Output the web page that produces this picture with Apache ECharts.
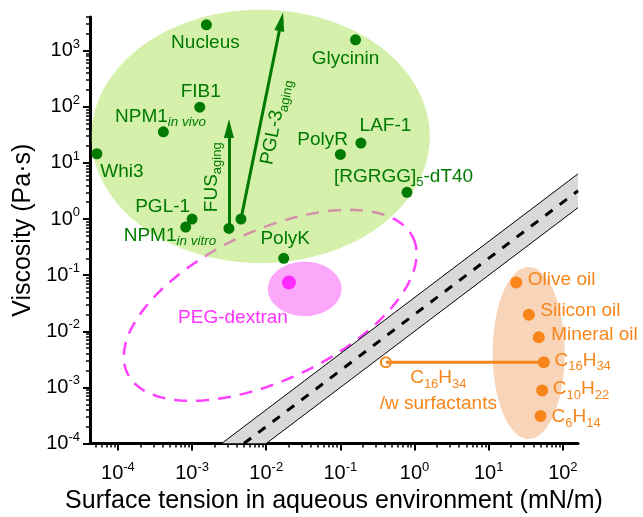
<!DOCTYPE html>
<html><head><meta charset="utf-8">
<script src="https://cdn.jsdelivr.net/npm/echarts@6/dist/echarts.min.js"></script>
<style>html,body{margin:0;padding:0;background:#fff}#c{width:643px;height:517px}</style>
</head><body><div id="c"></div>
<script>
// ---------------- data ----------------
const xRange = [4.2e-5, 160];
const yRange = [1e-4, 4000];
const xMajorTicks = [1e-4, 1e-3, 1e-2, 1e-1, 1, 10, 100];
const yMajorTicks = [1e-4, 1e-3, 1e-2, 1e-1, 1, 10, 100, 1000];
const minorDecades = [-5, -4, -3, -2, -1, 0, 1, 2, 3];
const minorMultipliers = [2, 3, 4, 5, 6, 7, 8, 9];

// condensates (green)
const greenNames = ['Nucleus', 'FIB1', 'NPM1 in vivo', 'Whi3', 'PGL-1', 'NPM1 in vitro', 'FUS', 'PGL-3', 'PolyK', 'Glycinin', 'LAF-1', 'PolyR', '[RGRGG]5-dT40'];
const greenTension = [1.56e-3, 1.27e-3, 4.1e-4, 5.2e-5, 1.0e-3, 8.2e-4, 3.14e-3, 4.56e-3, 0.0172, 0.16, 0.189, 0.1, 0.79];
const greenViscosity = [2900, 99, 36, 14.6, 1.0, 0.72, 0.68, 1.0, 0.2, 1570, 22.6, 14.2, 3.0];

// aging arrows
const arrowNames = ['FUS', 'PGL-3'];
const arrowFrom = [[3.14e-3, 0.68], [4.56e-3, 1.0]];
const arrowTo = [[3.14e-3, 41], [0.0159, 3300]];

// PEG-dextran (magenta)
const pegNames = ['PEG-dextran'];
const pegTension = [0.0202];
const pegViscosity = [0.074];

// oils (orange)
const oilNames = ['Olive oil', 'Silicon oil', 'Mineral oil', 'C16H34', 'C10H22', 'C6H14'];
const oilTension = [23.5, 34.8, 47.3, 55.3, 52.6, 50];
const oilViscosity = [0.074, 0.0197, 0.0078, 0.0028, 0.00088, 0.00031];

// C16H34 with surfactants
const surfNames = ['C16H34 /w surfactants'];
const surfTension = [0.41];
const surfViscosity = [0.0028];

// shaded regions (data extents)
const greenRegionX = [4.4e-5, 1.6];
const greenRegionY = [0.165, 5400];
const pegRegionX = [0.0105, 0.1035];
const pegRegionY = [0.0187, 0.174];
const oilRegionX = [11.3, 105.7];
const oilRegionY = [1.2e-4, 0.14];
// tilted dashed PEG-dextran boundary: centre and conjugate half-axes in decades
const pegBoundaryCenter = [0.0113, 0.029];
const pegBoundaryU = [1.927, 1.207];
const pegBoundaryV = [0.430, -1.200];

// scaling band  (viscosity ~ tension)
const trendLine = [[5e-3, 1e-4], [160, 3.2]];
const bandUpper = [[2.5e-3, 1e-4], [160, 6.4]];
const bandLower = [[1e-2, 1e-4], [160, 1.6]];

// ---------------- styles ----------------
const FONT = "'Liberation Sans', Arial, sans-serif";
const GREEN = '#007a00';
const MAGENTA = '#ff33ff';
const ORANGE = '#f7851a';

const labelText = {
  'NPM1 in vivo': '{m|NPM1}{si|in vivo}',
  'NPM1 in vitro': '{m|NPM1}{si|in vitro}',
  'FUS': '{m|FUS}{sub|aging}',
  'PGL-3': '{m|PGL-3}{sub|aging}',
  '[RGRGG]5-dT40': '{m|[RGRGG]}{sub|5}{m|-dT40}',
  'C16H34': '{m|C}{sub|16}{m|H}{sub|34}',
  'C10H22': '{m|C}{sub|10}{m|H}{sub|22}',
  'C6H14': '{m|C}{sub|6}{m|H}{sub|14}',
  'C16H34 /w surfactants': '{m|C}{sub|16}{m|H}{sub|34}\n{m|/w surfactants}'
};
const labelLayout = {
  'Nucleus': {align: 'center', offset: [-1, 18]},
  'FIB1': {align: 'center', offset: [1, -15.6]},
  'NPM1 in vivo': {align: 'left', offset: [-48.3, -15.3]},
  'Whi3': {align: 'left', offset: [3.4, 17.7]},
  'PGL-1': {align: 'right', offset: [-2, -12.6]},
  'NPM1 in vitro': {align: 'left', offset: [-62, 8.5]},
  'FUS': {align: 'center', offset: [51.2, -17.6], rotate: 90},
  'PGL-3': {align: 'center', offset: [102, 15], rotate: 79},
  'PolyK': {align: 'center', offset: [1.5, -19.6]},
  'Glycinin': {align: 'center', offset: [-10, 18.8]},
  'LAF-1': {align: 'left', offset: [-1.3, -17.6]},
  'PolyR': {align: 'right', offset: [7.6, -14.7]},
  '[RGRGG]5-dT40': {align: 'left', offset: [-73, -16]},
  'PEG-dextran': {align: 'right', offset: [-1, 35.6]},
  'Olive oil': {align: 'left', offset: [11.6, -3.2]},
  'Silicon oil': {align: 'left', offset: [11.4, -3.7]},
  'Mineral oil': {align: 'left', offset: [12.4, -2.2]},
  'C16H34': {align: 'left', offset: [10.7, -2]},
  'C10H22': {align: 'left', offset: [10.6, -2]},
  'C6H14': {align: 'left', offset: [11, 0.7]},
  'C16H34 /w surfactants': {align: 'center', offset: [52.5, 28.5]}
};

function richFor(color) {
  return {
    m: {fontSize: 19, lineHeight: 26, fontFamily: FONT, color: color},
    sub: {fontSize: 13, lineHeight: 13, verticalAlign: 'bottom', fontFamily: FONT, color: color},
    si: {fontSize: 13.5, lineHeight: 13, fontStyle: 'italic', verticalAlign: 'bottom', fontFamily: FONT, color: color}
  };
}
function makePoints(names, xs, ys, color) {
  return names.map((n, i) => {
    const lay = labelLayout[n] || {align: 'center', offset: [0, 0]};
    return {
      name: n,
      value: [xs[i], ys[i]],
      label: {
        show: true, position: 'inside', verticalAlign: 'middle', opacity: 1,
        align: lay.align, offset: lay.offset, rotate: lay.rotate || 0,
        formatter: labelText[n] || ('{m|' + n + '}'),
        rich: richFor(color)
      }
    };
  });
}

const minorTicks = [];
minorDecades.forEach(d => minorMultipliers.forEach(m => minorTicks.push(m * Math.pow(10, d))));
const xMinor = minorTicks.filter(v => v > xRange[0] && v < xRange[1]);
const yMinor = minorTicks.filter(v => v > yRange[0] && v <= yRange[1]);

function ellipseVerts(xr, yr) {
  const lx0 = Math.log10(xr[0]), lx1 = Math.log10(xr[1]);
  const ly0 = Math.log10(yr[0]), ly1 = Math.log10(yr[1]);
  const cx = (lx0 + lx1) / 2, rx = (lx1 - lx0) / 2, cy = (ly0 + ly1) / 2, ry = (ly1 - ly0) / 2;
  const pts = [];
  for (let i = 0; i < 180; i++) {
    const t = i / 180 * Math.PI * 2;
    pts.push([Math.pow(10, cx + rx * Math.cos(t)), Math.pow(10, cy + ry * Math.sin(t))]);
  }
  return pts;
}
function tiltedVerts(c, U, V) {
  const lc = [Math.log10(c[0]), Math.log10(c[1])];
  const pts = [];
  for (let i = 0; i < 180; i++) {
    const t = i / 180 * Math.PI * 2;
    pts.push([Math.pow(10, lc[0] + U[0] * Math.cos(t) + V[0] * Math.sin(t)),
              Math.pow(10, lc[1] + U[1] * Math.cos(t) + V[1] * Math.sin(t))]);
  }
  return pts;
}
function polySeries(verts, style, clip) {
  return {
    type: 'custom', coordinateSystem: 'cartesian2d', clip: !!clip, silent: true,
    data: [verts[0]],
    renderItem: (params, api) => ({
      type: 'polygon',
      shape: {points: verts.map(p => api.coord(p))},
      style: style
    })
  };
}

const powLabel = v => '{b|10}{e|' + Math.round(Math.log10(v)) + '}';
const tickRich = {
  b: {fontSize: 20, lineHeight: 26, fontFamily: FONT, color: '#000'},
  e: {fontSize: 13, lineHeight: 13, verticalAlign: 'top', fontFamily: FONT, color: '#000'}
};
const gridBox = {left: 90, right: 65, top: 17, bottom: 73.5, containLabel: false, outerBoundsMode: 'none'};

const option = {
  animation: false,
  backgroundColor: '#fff',
  grid: [Object.assign({}, gridBox), Object.assign({}, gridBox)],
  xAxis: [
    {
      type: 'log', logBase: 10, gridIndex: 0, min: xRange[0], max: xRange[1], position: 'bottom',
      axisLine: {show: true, lineStyle: {color: '#000', width: 3}},
      axisTick: {show: true, inside: false, length: 7, lineStyle: {color: '#000', width: 2}, customValues: xMajorTicks},
      axisLabel: {show: true, customValues: xMajorTicks, formatter: powLabel, margin: 17, rich: tickRich},
      splitLine: {show: false}, minorTick: {show: false},
      name: 'Surface tension in aqueous environment (mN/m)', nameLocation: 'middle', nameGap: 32,
      nameTextStyle: {fontSize: 25, fontFamily: FONT, color: '#000'}
    },
    {
      type: 'log', logBase: 10, gridIndex: 1, min: xRange[0], max: xRange[1], position: 'bottom',
      axisLine: {show: false},
      axisTick: {show: true, inside: false, length: 4, lineStyle: {color: '#000', width: 1.5}, customValues: xMinor},
      axisLabel: {show: false}, splitLine: {show: false}
    }
  ],
  yAxis: [
    {
      type: 'log', logBase: 10, gridIndex: 0, min: yRange[0], max: yRange[1], position: 'left',
      axisLine: {show: true, lineStyle: {color: '#000', width: 3}},
      axisTick: {show: true, inside: false, length: 7, lineStyle: {color: '#000', width: 2}, customValues: yMajorTicks},
      axisLabel: {show: true, customValues: yMajorTicks, formatter: powLabel, margin: 10, rich: tickRich},
      splitLine: {show: false}, minorTick: {show: false},
      name: 'Viscosity (Pa\u00b7s)', nameLocation: 'middle', nameGap: 48,
      nameTextStyle: {fontSize: 25, fontFamily: FONT, color: '#000'}
    },
    {
      type: 'log', logBase: 10, gridIndex: 1, min: yRange[0], max: yRange[1], position: 'left',
      axisLine: {show: false},
      axisTick: {show: true, inside: false, length: 4, lineStyle: {color: '#000', width: 1.5}, customValues: yMinor},
      axisLabel: {show: false}, splitLine: {show: false}
    }
  ],
  series: [
    polySeries([bandUpper[0], bandLower[0], bandLower[1], bandUpper[1]], {fill: '#d9d9d9'}, true),
    {type: 'line', data: bandUpper, symbol: 'none', silent: true, clip: true, lineStyle: {color: '#000', width: 1}},
    {type: 'line', data: bandLower, symbol: 'none', silent: true, clip: true, lineStyle: {color: '#000', width: 1}},
    {type: 'line', data: trendLine, symbol: 'none', silent: true, clip: true, lineStyle: {color: '#000', width: 3, type: [9, 9]}},
    polySeries(tiltedVerts(pegBoundaryCenter, pegBoundaryU, pegBoundaryV),
      {fill: 'none', stroke: '#ff40ff', lineWidth: 2.5, lineDash: [13, 9]}, false),
    polySeries(ellipseVerts(greenRegionX, greenRegionY), {fill: 'rgb(169,225,85)', opacity: 0.5}, false),
    polySeries(ellipseVerts(pegRegionX, pegRegionY), {fill: '#fba8fb'}, false),
    {type: 'line', data: [[surfTension[0], surfViscosity[0]], [oilTension[3], oilViscosity[3]]],
     symbol: 'none', silent: true, lineStyle: {color: ORANGE, width: 3}},
    polySeries(ellipseVerts(oilRegionX, oilRegionY), {fill: 'rgb(243,183,138)', opacity: 0.6}, false),
    {
      type: 'scatter', name: 'condensates', clip: false, symbolSize: 11,
      itemStyle: {color: GREEN, opacity: 1},
      label: {color: GREEN, fontSize: 19, fontFamily: FONT, lineHeight: 26, opacity: 1},
      data: makePoints(greenNames, greenTension, greenViscosity, GREEN),
      markLine: {
        silent: true, animation: false,
        label: {show: false},
        lineStyle: {color: GREEN, width: 3, type: 'solid', opacity: 1},
        emphasis: {disabled: true},
        data: arrowNames.map((n, i) => [
          {coord: arrowFrom[i], symbol: 'none'},
          {coord: arrowTo[i], symbol: 'triangle', symbolSize: [10, 19]}
        ])
      }
    },
    {
      type: 'scatter', name: 'peg', clip: false, symbolSize: 14,
      itemStyle: {color: '#ff2aff', opacity: 1},
      label: {opacity: 1},
      data: makePoints(pegNames, pegTension, pegViscosity, MAGENTA)
    },
    {
      type: 'scatter', name: 'oils', clip: false, symbolSize: 12,
      itemStyle: {color: ORANGE, opacity: 1},
      label: {opacity: 1},
      data: makePoints(oilNames, oilTension, oilViscosity, ORANGE)
    },
    {
      type: 'scatter', name: 'surfactant', clip: false, symbolSize: 10,
      itemStyle: {color: '#fff', borderColor: ORANGE, borderWidth: 2, opacity: 1},
      label: {opacity: 1},
      data: makePoints(surfNames, surfTension, surfViscosity, ORANGE)
    }
  ]
};

const chart = echarts.init(document.getElementById('c'), null, {renderer: 'canvas'});
chart.setOption(option);
</script>
</body></html>
